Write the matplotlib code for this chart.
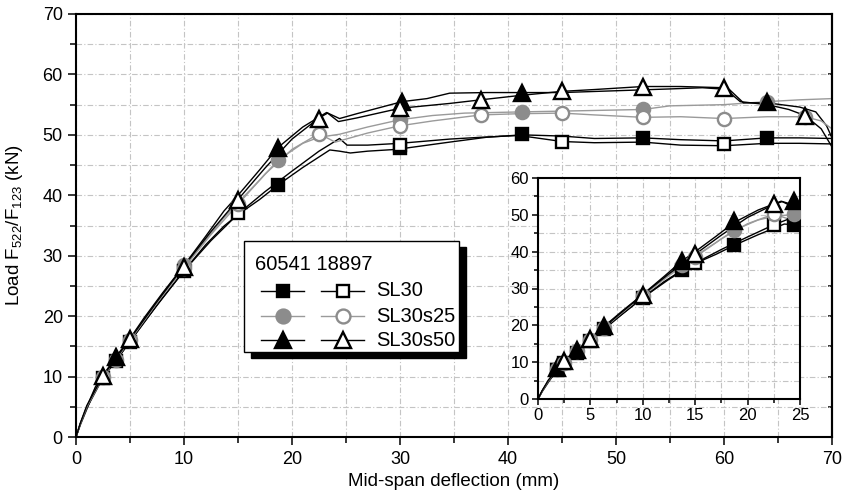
import matplotlib
matplotlib.use('Agg')
import matplotlib.pyplot as plt
from matplotlib.patches import Rectangle
from matplotlib.lines import Line2D
from matplotlib.ticker import MultipleLocator

plt.rcParams['font.family'] = ['Liberation Sans', 'DejaVu Sans']
plt.rcParams['mathtext.default'] = 'regular'

# ---------------- data ----------------
series_names = ['SL30', 'SL30s25', 'SL30s50']
group_names = ['60541', '18897']
x_label = 'Mid-span deflection (mm)'
y_label = 'Load F$_{522}$/F$_{123}$ (kN)'

# SL30, specimen 60541 (filled squares)
sl30_f_x = [0, 0.4, 1.0, 1.8, 2.5, 3.7, 5.0, 6.3, 8.0, 10.0, 12.0, 13.7, 15.0, 17.0, 18.7, 21.0, 23.5, 24.4, 25.4,
            27.0, 29.7, 34.6, 38.0, 41.3, 45.0, 48.0, 52.5, 56.0, 60.0, 64.0, 67.0, 70.0]
sl30_f_y = [0, 2.0, 4.6, 8.0, 9.9, 12.6, 15.8, 19.0, 23.0, 27.5, 31.8, 34.9, 36.8, 39.3, 41.7, 44.6, 47.5, 47.3, 47.0,
            47.3, 47.6, 48.8, 49.6, 50.0, 49.8, 49.4, 49.5, 49.2, 49.0, 49.5, 49.5, 49.4]
# SL30, specimen 18897 (open squares)
sl30_o_x = [0, 0.4, 1.0, 2.5, 5.0, 7.5, 10.0, 12.5, 15.0, 17.5, 20.0, 22.5, 23.5, 24.4, 25.1, 27.0, 30.0, 34.6, 37.5,
            41.0, 45.0, 48.0, 52.5, 56.0, 60.0, 64.0, 67.0, 70.0]
sl30_o_y = [0, 2.2, 4.8, 9.8, 15.8, 21.8, 27.5, 32.5, 36.9, 40.6, 44.0, 47.3, 48.4, 49.4, 48.3, 48.3, 48.6, 49.3, 49.6,
            49.9, 48.9, 48.7, 48.8, 48.3, 48.2, 48.6, 48.6, 48.5]
# SL30s25, specimen 60541 (filled circles)
s25_f_x = [0, 0.4, 1.0, 1.8, 2.5, 3.7, 5.0, 6.3, 8.0, 10.0, 12.0, 13.7, 15.0, 17.0, 18.7, 21.0, 22.5, 24.4, 27.0,
           30.0, 33.0, 36.0, 41.3, 47.0, 52.5, 55.0, 60.0, 64.0, 67.0, 70.0]
s25_f_y = [0, 2.1, 4.8, 8.2, 10.0, 12.9, 16.0, 19.3, 23.4, 28.0, 32.6, 36.3, 38.8, 42.5, 45.8, 48.6, 49.6, 50.1, 51.3,
           52.5, 53.2, 53.6, 53.8, 54.0, 54.2, 54.8, 55.0, 55.5, 55.8, 56.0]
# SL30s25, specimen 18897 (open circles)
s25_o_x = [0, 0.4, 1.0, 2.5, 5.0, 7.5, 10.0, 12.5, 15.0, 17.5, 20.0, 22.5, 24.0, 27.0, 30.0, 33.0, 37.5, 41.0, 45.0,
           48.0, 52.5, 56.0, 60.0, 64.0, 67.5, 69.0, 70.0]
s25_o_y = [0, 2.2, 5.0, 9.9, 16.0, 22.2, 28.0, 33.5, 38.5, 43.5, 47.6, 50.2, 48.8, 50.3, 51.5, 52.3, 53.3, 53.5, 53.6,
           53.3, 52.9, 53.0, 52.7, 53.0, 53.0, 52.3, 51.0]
# SL30s50, specimen 60541 (filled triangles)
s50_f_x = [0, 0.4, 1.0, 1.8, 2.5, 3.7, 5.0, 6.3, 8.0, 10.0, 12.0, 13.7, 15.0, 17.0, 18.7, 21.0, 23.2, 24.4, 26.0,
           30.2, 32.5, 34.6, 38.0, 41.3, 45.0, 50.0, 55.0, 58.0, 60.5, 61.8, 64.0, 67.0, 68.5, 69.5, 70.0]
s50_f_y = [0, 2.2, 5.0, 8.3, 10.2, 13.3, 16.3, 19.7, 23.8, 28.4, 33.2, 37.4, 40.0, 44.2, 47.9, 51.3, 53.7, 52.7, 53.5,
           55.5, 56.0, 56.9, 57.0, 57.0, 57.0, 57.3, 57.6, 57.8, 57.5, 55.3, 55.3, 54.6, 53.8, 51.5, 49.5]
# SL30s50, specimen 18897 (open triangles)
s50_o_x = [0, 0.4, 1.0, 2.5, 5.0, 7.5, 10.0, 12.5, 15.0, 17.5, 20.0, 22.5, 23.3, 24.3, 26.0, 30.0, 34.6, 37.5, 41.0,
           45.0, 48.0, 52.5, 56.0, 60.0, 61.5, 64.0, 66.0, 67.5, 69.0, 70.0]
s50_o_y = [0, 2.3, 5.2, 10.1, 16.2, 22.4, 28.3, 34.0, 39.3, 44.5, 49.3, 52.8, 53.6, 52.2, 52.8, 54.4, 55.2, 55.8, 56.5,
           57.2, 57.5, 58.0, 58.0, 57.8, 55.5, 55.0, 54.2, 53.2, 51.0, 48.0]

# marker points, main plot
sl30_f_mx = [3.7, 18.7, 30.0, 41.3, 52.5, 64.0]
sl30_f_my = [12.5, 41.7, 47.8, 50.2, 49.5, 49.5]
sl30_o_mx = [2.5, 5.0, 10.0, 15.0, 30.0, 45.0, 60.0]
sl30_o_my = [9.8, 15.8, 27.5, 37.0, 48.4, 48.8, 48.5]
s25_f_mx = [3.7, 10.0, 18.7, 30.0, 41.3, 52.5, 64.0]
s25_f_my = [12.8, 28.5, 45.8, 52.5, 53.8, 54.2, 55.5]
s25_o_mx = [2.5, 5.0, 10.0, 15.0, 22.5, 30.0, 37.5, 45.0, 52.5, 60.0, 67.5]
s25_o_my = [9.9, 16.0, 28.0, 38.5, 50.1, 51.5, 53.3, 53.6, 52.9, 52.7, 53.0]
s50_f_mx = [3.7, 18.7, 30.2, 41.3, 64.0]
s50_f_my = [13.3, 47.9, 55.5, 57.0, 55.5]
s50_o_mx = [2.5, 5.0, 10.0, 15.0, 22.5, 30.0, 37.5, 45.0, 52.5, 60.0, 67.5]
s50_o_my = [10.1, 16.2, 28.2, 39.2, 52.7, 54.4, 55.8, 57.3, 58.0, 57.8, 53.2]

# marker points, inset
sl30_f_ix = [1.8, 3.7, 6.3, 13.7, 18.7, 24.4]
sl30_f_iy = [8.0, 12.6, 19.0, 34.9, 41.7, 47.3]
sl30_o_ix = [2.5, 5.0, 10.0, 15.0, 22.5]
sl30_o_iy = [9.8, 15.8, 27.5, 36.9, 47.3]
s25_f_ix = [1.8, 3.7, 6.3, 13.7, 18.7, 24.4]
s25_f_iy = [8.2, 12.9, 19.3, 36.3, 45.8, 50.1]
s25_o_ix = [2.5, 5.0, 10.0, 15.0, 22.5]
s25_o_iy = [9.9, 16.0, 28.0, 38.5, 50.3]
s50_f_ix = [1.8, 3.7, 6.3, 13.7, 18.7, 24.4]
s50_f_iy = [8.3, 13.3, 19.7, 37.4, 48.2, 53.7]
s50_o_ix = [2.5, 5.0, 10.0, 15.0, 22.5]
s50_o_iy = [10.2, 16.2, 28.3, 39.4, 53.0]

# ---------------- styles ----------------
BLACK = 'black'
GREY = '#8c8c8c'
GREY_LINE = '#9a9a9a'
GRID = '#c4c4c4'

styles = {
    'sl30_f': dict(marker='s', mfc=BLACK, mec=BLACK, lc=BLACK, ms=8.5),
    'sl30_o': dict(marker='s', mfc='white', mec=BLACK, lc=BLACK, ms=8.5),
    's25_f': dict(marker='o', mfc=GREY, mec=GREY, lc=GREY_LINE, ms=9.5),
    's25_o': dict(marker='o', mfc='white', mec=GREY, lc=GREY_LINE, ms=9.5),
    's50_f': dict(marker='^', mfc=BLACK, mec=BLACK, lc=BLACK, ms=11),
    's50_o': dict(marker='^', mfc='white', mec=BLACK, lc=BLACK, ms=11),
}

curves = {
    'sl30_f': (sl30_f_x, sl30_f_y, sl30_f_mx, sl30_f_my, sl30_f_ix, sl30_f_iy),
    's25_f': (s25_f_x, s25_f_y, s25_f_mx, s25_f_my, s25_f_ix, s25_f_iy),
    's50_f': (s50_f_x, s50_f_y, s50_f_mx, s50_f_my, s50_f_ix, s50_f_iy),
    'sl30_o': (sl30_o_x, sl30_o_y, sl30_o_mx, sl30_o_my, sl30_o_ix, sl30_o_iy),
    's25_o': (s25_o_x, s25_o_y, s25_o_mx, s25_o_my, s25_o_ix, s25_o_iy),
    's50_o': (s50_o_x, s50_o_y, s50_o_mx, s50_o_my, s50_o_ix, s50_o_iy),
}

W, H = 843, 500
fig = plt.figure(figsize=(W / 100, H / 100), dpi=100)


def fx(px):
    return px / W


def fy(py):
    return 1 - py / H


ax = fig.add_axes([fx(76), fy(437), fx(832) - fx(76), fy(14) - fy(437)])
ax.set_xlim(0, 70)
ax.set_ylim(0, 70)
ax.xaxis.set_major_locator(MultipleLocator(10))
ax.xaxis.set_minor_locator(MultipleLocator(5))
ax.yaxis.set_major_locator(MultipleLocator(10))
ax.yaxis.set_minor_locator(MultipleLocator(5))
ax.grid(which='both', color=GRID, linestyle=(0, (5, 2, 1, 2)), linewidth=0.8)
ax.set_axisbelow(True)
for s in ax.spines.values():
    s.set_linewidth(1.5)
ax.tick_params(which='major', direction='out', length=6, width=1.1, labelsize=13, pad=3.5)
ax.tick_params(which='minor', direction='out', length=4, width=1.1)
ax.tick_params(axis='x', which='major', pad=4)
sec = ax.secondary_yaxis('right')
sec.yaxis.set_major_locator(MultipleLocator(5))
sec.tick_params(direction='in', length=3, width=1.1, labelright=False)
sec.spines['right'].set_linewidth(1.5)

ax.set_xlabel(x_label, fontsize=13.5)
ax.set_ylabel(y_label, fontsize=13.5)
ax.xaxis.set_label_coords(0.5, -0.085)
ax.yaxis.set_label_coords(-0.068, 0.5)

# inset
ax_in = fig.add_axes([fx(538), fy(399), fx(800) - fx(538), fy(178) - fy(399)])
ax_in.set_facecolor('white')
ax_in.set_xlim(0, 25)
ax_in.set_ylim(0, 60)
ax_in.xaxis.set_major_locator(MultipleLocator(5))
ax_in.xaxis.set_minor_locator(MultipleLocator(2.5))
ax_in.yaxis.set_major_locator(MultipleLocator(10))
ax_in.yaxis.set_minor_locator(MultipleLocator(5))
ax_in.grid(which='both', color=GRID, linestyle=(0, (5, 2, 1, 2)), linewidth=0.8)
ax_in.set_axisbelow(True)
for s in ax_in.spines.values():
    s.set_linewidth(1.5)
ax_in.tick_params(which='major', direction='out', length=4.5, width=1.1, labelsize=12, pad=2)
ax_in.tick_params(which='minor', direction='out', length=3, width=1.1)

for key in ['sl30_f', 's25_f', 's50_f', 'sl30_o', 's25_o', 's50_o']:
    x, y, mx, my, ix, iy = curves[key]
    st = styles[key]
    for a, px_, py_ in ((ax, mx, my), (ax_in, ix, iy)):
        a.plot(x, y, color=st['lc'], lw=1.0, zorder=2)
    for a, px_, py_ in ((ax, mx, my), (ax_in, ix, iy)):
        a.plot(px_, py_, linestyle='none', marker=st['marker'], ms=st['ms'],
               mfc=st['mfc'], mec=st['mec'], mew=1.7, zorder=4 if key.endswith('_o') else 3)

# legend (manual, with drop shadow)
bx0, by0, bx1, by1 = 244, 241, 459, 352
shadow = Rectangle((fx(bx0 + 7), fy(by1 + 6)), fx(bx1) - fx(bx0), fy(by0) - fy(by1),
                   transform=fig.transFigure, facecolor='black', edgecolor='black', zorder=5)
box = Rectangle((fx(bx0), fy(by1)), fx(bx1) - fx(bx0), fy(by0) - fy(by1),
                transform=fig.transFigure, facecolor='white', edgecolor='black', lw=1.0, zorder=6)
fig.add_artist(shadow)
fig.add_artist(box)
fig.text(fx(255), fy(265), group_names[0] + ' ' + group_names[1], fontsize=14.5,
         va='center', ha='left', zorder=7)
row_y = [291, 316, 340]
keys_rows = [('sl30_f', 'sl30_o'), ('s25_f', 's25_o'), ('s50_f', 's50_o')]
for name, ry, (kf, ko) in zip(series_names, row_y, keys_rows):
    for k, (lx0, lx1, mxp) in ((kf, (261, 304, 283)), (ko, (321, 364, 343))):
        st = styles[k]
        fig.add_artist(Line2D([fx(lx0), fx(lx1)], [fy(ry), fy(ry)], transform=fig.transFigure,
                              color=st['lc'], lw=1.0, zorder=7))
        fig.add_artist(Line2D([fx(mxp)], [fy(ry)], transform=fig.transFigure, linestyle='none',
                              marker=st['marker'], ms=st['ms'] + 0.5, mfc=st['mfc'], mec=st['mec'],
                              mew=1.7, zorder=8))
    fig.text(fx(376), fy(ry), name, fontsize=14.5, va='center', ha='left', zorder=7)

fig.savefig('out.png', dpi=100)
